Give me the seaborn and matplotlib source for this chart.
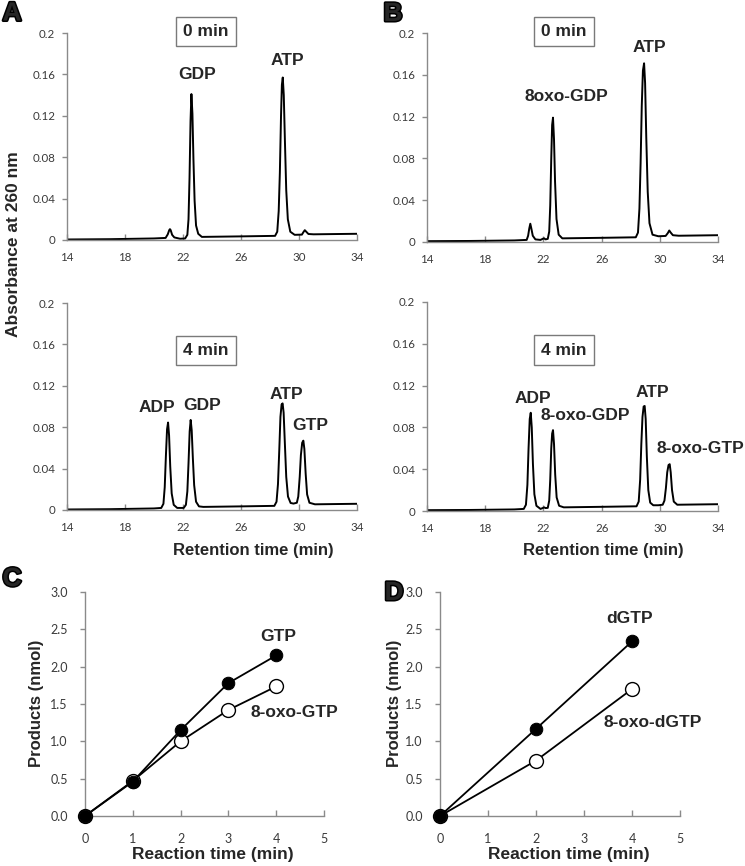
import matplotlib
matplotlib.use("Agg")
import matplotlib.pyplot as plt
import matplotlib.patheffects as pe
import seaborn as sns

# ---------------- data ----------------
# Panel A, 0 min chromatogram
a0_time = [14, 17, 20, 20.8, 20.95, 21.05, 21.1, 21.15, 21.25, 21.4, 21.8, 22.15, 22.3, 22.38, 22.45,
           22.52, 22.58, 22.65, 22.72, 22.8, 22.9, 23.05, 23.3, 26, 28.35, 28.5, 28.6, 28.68, 28.76,
           28.82, 28.88, 28.95, 29.03, 29.12, 29.23, 29.4, 29.7, 30.2, 30.3, 30.4, 30.5, 30.65, 31, 34]
a0_abs = [0.0005, 0.0008, 0.0015, 0.002, 0.0055, 0.0095, 0.0105, 0.0095, 0.005, 0.0025, 0.0012, 0.0015,
          0.005, 0.02, 0.06, 0.115, 0.141, 0.122, 0.078, 0.038, 0.014, 0.006, 0.003, 0.0035, 0.004,
          0.008, 0.028, 0.065, 0.12, 0.15, 0.157, 0.14, 0.095, 0.048, 0.02, 0.008, 0.005, 0.0052,
          0.0075, 0.0095, 0.008, 0.0058, 0.0055, 0.006]

# Panel A, 4 min chromatogram
a4_time = [14, 17, 20, 20.5, 20.65, 20.74, 20.82, 20.9, 20.97, 21.04, 21.12, 21.22, 21.36, 21.6, 22.05,
           22.2, 22.3, 22.38, 22.46, 22.53, 22.6, 22.68, 22.77, 22.9, 23.1, 23.4, 26, 28.3, 28.45,
           28.55, 28.64, 28.72, 28.8, 28.87, 28.94, 29.02, 29.12, 29.24, 29.42, 29.62, 29.85, 29.95,
           30.05, 30.13, 30.22, 30.3, 30.37, 30.46, 30.56, 30.72, 31.1, 34]
a4_abs = [0.0005, 0.0008, 0.0015, 0.002, 0.006, 0.022, 0.052, 0.078, 0.0845, 0.072, 0.042, 0.016, 0.005,
          0.002, 0.002, 0.005, 0.018, 0.045, 0.076, 0.087, 0.077, 0.05, 0.024, 0.008, 0.0035, 0.003,
          0.0035, 0.004, 0.008, 0.025, 0.058, 0.09, 0.102, 0.103, 0.094, 0.066, 0.032, 0.013, 0.0068,
          0.0062, 0.007, 0.013, 0.032, 0.053, 0.065, 0.067, 0.059, 0.035, 0.015, 0.007, 0.0055, 0.006]

# Panel B, 0 min chromatogram
b0_time = [14, 17, 20, 20.85, 20.95, 21.03, 21.1, 21.17, 21.27, 21.45, 21.8, 21.95, 22.05, 22.15, 22.3,
           22.4, 22.47, 22.54, 22.6, 22.66, 22.73, 22.8, 22.9, 23.05, 23.3, 26, 28.35, 28.5, 28.6,
           28.68, 28.76, 28.84, 28.92, 28.99, 29.07, 29.17, 29.29, 29.5, 29.9, 30.4, 30.55, 30.65,
           30.75, 30.9, 31.3, 34]
b0_abs = [0.0008, 0.001, 0.0015, 0.002, 0.006, 0.013, 0.0175, 0.013, 0.006, 0.0025, 0.002, 0.003,
          0.0035, 0.0025, 0.003, 0.01, 0.035, 0.08, 0.112, 0.119, 0.098, 0.058, 0.022, 0.007, 0.0035,
          0.004, 0.0045, 0.009, 0.032, 0.075, 0.13, 0.164, 0.171, 0.152, 0.1, 0.048, 0.018, 0.007,
          0.0055, 0.0058, 0.0085, 0.011, 0.009, 0.0065, 0.006, 0.0065]

# Panel B, 4 min chromatogram
b4_time = [14, 17, 20, 20.65, 20.8, 20.9, 20.98, 21.06, 21.13, 21.2, 21.28, 21.38, 21.52, 21.8, 21.95,
           22.05, 22.15, 22.3, 22.4, 22.47, 22.54, 22.6, 22.66, 22.73, 22.81, 22.91, 23.08, 23.4, 26,
           28.4, 28.55, 28.65, 28.73, 28.81, 28.89, 28.96, 29.03, 29.11, 29.21, 29.34, 29.55, 29.9,
           30.2, 30.32, 30.42, 30.51, 30.6, 30.68, 30.75, 30.84, 30.96, 31.2, 34]
b4_abs = [0.0008, 0.001, 0.0015, 0.002, 0.006, 0.025, 0.06, 0.088, 0.094, 0.08, 0.045, 0.016, 0.005,
          0.002, 0.0028, 0.0035, 0.0028, 0.003, 0.01, 0.03, 0.06, 0.074, 0.0774, 0.064, 0.035, 0.013,
          0.005, 0.0035, 0.004, 0.0045, 0.009, 0.03, 0.064, 0.09, 0.1, 0.1005, 0.088, 0.052, 0.02,
          0.008, 0.0055, 0.0055, 0.006, 0.01, 0.022, 0.037, 0.044, 0.0448, 0.037, 0.02, 0.009, 0.006,
          0.0065]

# Panel C
c_time = [0, 1, 2, 3, 4]
c_gtp = [0.0, 0.46, 1.15, 1.78, 2.15]
c_oxo_gtp = [0.0, 0.47, 1.0, 1.42, 1.735]

# Panel D
d_time = [0, 2, 4]
d_dgtp = [0.0, 1.167, 2.338]
d_oxo_dgtp = [0.0, 0.742, 1.70]

chrom_xticks = [14, 18, 22, 26, 30, 34]
chrom_yticks = [0, 0.04, 0.08, 0.12, 0.16, 0.2]
chrom_yticklabels = ["0", "0.04", "0.08", "0.12", "0.16", "0.2"]
prod_xticks = [0, 1, 2, 3, 4, 5]
prod_yticks = [0.0, 0.5, 1.0, 1.5, 2.0, 2.5, 3.0]
prod_yticklabels = ["0.0", "0.5", "1.0", "1.5", "2.0", "2.5", "3.0"]

# ---------------- style ----------------
sns.set_style("ticks")
plt.rcParams["font.family"] = ["Liberation Sans", "DejaVu Sans"]

SPINE = "#8a8a8a"
TICKC = "#3a3a3a"
W, H = 745, 866

fig = plt.figure(figsize=(W / 100, H / 100), dpi=100)


def ax_px(x0, x1, y0, y1):
    return fig.add_axes([x0 / W, (H - y1) / H, (x1 - x0) / W, (y1 - y0) / H])


def common_style(ax, fs):
    for s in ["top", "right"]:
        ax.spines[s].set_visible(False)
    for s in ["left", "bottom"]:
        ax.spines[s].set_color(SPINE)
        ax.spines[s].set_linewidth(1.0)
    ax.tick_params(colors=SPINE, labelcolor=TICKC, width=1.0)
    for lab_ in ax.get_xticklabels() + ax.get_yticklabels():
        lab_.set_fontfamily(["Lato", "DejaVu Sans"])
        lab_.set_fontsize(fs)
    ax.set_xlabel("")
    ax.set_ylabel("")


def style_chrom(ax):
    ax.set_xlim(14, 34)
    ax.set_ylim(0, 0.2)
    ax.set_xticks(chrom_xticks)
    ax.set_xticklabels([str(t) for t in chrom_xticks])
    ax.set_yticks(chrom_yticks)
    ax.set_yticklabels(chrom_yticklabels)
    common_style(ax, 8.3)
    ax.tick_params(axis="x", direction="in", length=4, pad=8.5)
    ax.tick_params(axis="y", direction="out", length=3.5, pad=5)


def style_prod(ax):
    ax.set_xlim(0, 5)
    ax.set_ylim(0, 3.0)
    ax.set_xticks(prod_xticks)
    ax.set_xticklabels([str(t) for t in prod_xticks])
    ax.set_yticks(prod_yticks)
    ax.set_yticklabels(prod_yticklabels)
    common_style(ax, 9)
    ax.tick_params(axis="x", direction="in", length=4, pad=12.5)
    ax.tick_params(axis="y", direction="out", length=3.5, pad=9)


def box(ax, x, y, s):
    ax.text(x, y, s, ha="center", va="center", fontsize=12.5, fontweight="bold", clip_on=False,
            bbox=dict(boxstyle="square,pad=0.42", fc="white", ec="#7a7a7a", lw=1.0), zorder=5)


def lab(ax, x, y, s):
    ax.text(x, y, s, ha="center", va="center", fontsize=12.5, fontweight="bold", clip_on=False)


def chrom(ax, t, a):
    sns.lineplot(x=t, y=a, ax=ax, color="black", lw=1.4, estimator=None)
    style_chrom(ax)


# Panel A top
axA0 = ax_px(67, 357, 33, 240)
chrom(axA0, a0_time, a0_abs)
box(axA0, 23.6, 0.2015, "0 min")
lab(axA0, 22.97, 0.160, "GDP")
lab(axA0, 29.2, 0.173, "ATP")

# Panel A bottom
axA4 = ax_px(67, 357, 303, 510)
chrom(axA4, a4_time, a4_abs)
box(axA4, 23.6, 0.154, "4 min")
lab(axA4, 20.2, 0.0995, "ADP")
lab(axA4, 23.3, 0.101, "GDP")
lab(axA4, 29.1, 0.112, "ATP")
lab(axA4, 30.76, 0.082, "GTP")

# Panel B top
axB0 = ax_px(427, 718, 33, 242)
chrom(axB0, b0_time, b0_abs)
box(axB0, 23.4, 0.2015, "0 min")
lab(axB0, 23.6, 0.139, "8oxo-GDP")
lab(axB0, 29.3, 0.186, "ATP")

# Panel B bottom
axB4 = ax_px(427, 718, 302, 511)
chrom(axB4, b4_time, b4_abs)
box(axB4, 23.4, 0.154, "4 min")
lab(axB4, 21.3, 0.108, "ADP")
lab(axB4, 24.85, 0.091, "8-oxo-GDP")
lab(axB4, 29.5, 0.113, "ATP")
lab(axB4, 32.8, 0.060, "8-oxo-GTP")


def products(ax, t, filled, hollow):
    sns.lineplot(x=t, y=hollow, ax=ax, color="black", lw=1.3, marker="o", markersize=10,
                 markerfacecolor="white", markeredgecolor="black", markeredgewidth=1.0,
                 estimator=None, clip_on=False, zorder=3)
    sns.lineplot(x=t, y=filled, ax=ax, color="black", lw=1.3, marker="o", markersize=9,
                 markerfacecolor="black", markeredgecolor="black", estimator=None, clip_on=False,
                 zorder=4)
    style_prod(ax)


# Panel C
axC = ax_px(85, 324, 592, 816)
products(axC, c_time, c_gtp, c_oxo_gtp)
lab(axC, 4.04, 2.40, "GTP")
lab(axC, 4.39, 1.38, "8-oxo-GTP")

# Panel D
axD = ax_px(440, 680, 592, 816)
products(axD, d_time, d_dgtp, d_oxo_dgtp)
lab(axD, 3.94, 2.64, "dGTP")
lab(axD, 4.44, 1.25, "8-oxo-dGTP")

# Axis titles
fig.text(13.5 / W, (H - 244) / H, "Absorbance at 260 nm", rotation=90, ha="center", va="center",
         fontsize=12.5, fontweight="bold")
for xc in (253, 603):
    fig.text(xc / W, (H - 550) / H, "Retention time (min)", ha="center", va="center", fontsize=12,
             fontweight="bold")
for xc in (212.5, 569):
    fig.text(xc / W, (H - 855) / H, "Reaction time (min)", ha="center", va="center",
             fontsize=12.5, fontweight="bold")
for xc in (37, 395):
    fig.text(xc / W, (H - 703) / H, "Products (nmol)", rotation=90, ha="center", va="center",
             fontsize=12, fontweight="bold")

# Panel letters (heavy)
for x, y, s in [(12, 13.5, "A"), (393, 14, "B"), (12, 579, "C"), (394, 593, "D")]:
    fig.text(x / W, (H - y) / H, s, ha="center", va="center", fontsize=19, fontweight="bold",
             path_effects=[pe.withStroke(linewidth=2.2, foreground="black")])

fig.savefig("out.png", dpi=100)
